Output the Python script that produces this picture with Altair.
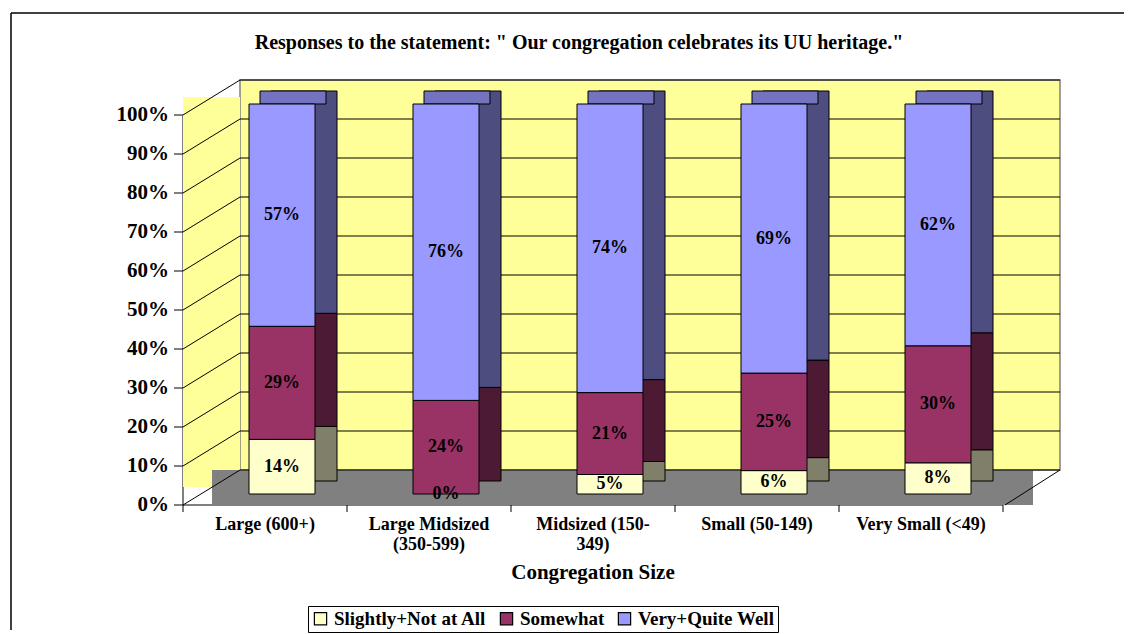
import altair as alt
import pandas as pd

sizes = ["Large (600+)", "Large Midsized (350-599)", "Midsized (150-349)",
         "Small (50-149)", "Very Small (<49)"]
responses = ["Slightly+Not at All", "Somewhat", "Very+Quite Well"]
slightly = [14, 0, 5, 6, 8]
somewhat = [29, 24, 21, 25, 30]
very = [57, 76, 74, 69, 62]
y_ticks = [0, 10, 20, 30, 40, 50, 60, 70, 80, 90, 100]
title_text = 'Responses to the statement: " Our congregation celebrates its UU heritage."'

front_colors = ["#FFFFCC", "#993366", "#9999FF"]
side_colors = ["#80806A", "#4D1A33", "#4D4D80"]
top_color = "#7373BF"
FONT = "Liberation Serif"

W, H = 820, 390
DX, DY = 57, 35  # perspective shift between back wall and front axis

rows = []
for i, s in enumerate(sizes):
    for j, (r, series) in enumerate(zip(responses, [slightly, somewhat, very])):
        rows.append({"size": s, "resp": r, "idx": j, "value": series[i]})
df = pd.DataFrame(rows)
ticks_df = pd.DataFrame({"tick": y_ticks})
one = pd.DataFrame({"a": [0]})

xscale = alt.Scale(domain=sizes, paddingInner=0, paddingOuter=0)
yscale = alt.Scale(domain=[0, 100], nice=False)

x_axis = alt.Axis(translate=-DX, offset=DX + DY, tickBand="extent",
                  labelAngle=0, domainColor="black", tickColor="black",
                  tickSize=7, labelPadding=4, labelFont=FONT, labelFontSize=18,
                  labelFontWeight="bold", labelColor="black", labelLimit=300,
                  labelLineHeight=20,
                  labelExpr="datum.label == 'Large Midsized (350-599)' ? ['Large Midsized', '(350-599)'] : datum.label == 'Midsized (150-349)' ? ['Midsized (150-', '349)'] : datum.label",
                  titleFont=FONT, titleFontSize=21, titleFontWeight="bold",
                  titleColor="black", titlePadding=8)
y_axis = alt.Axis(translate=DY, offset=DX + DY, values=y_ticks, grid=False,
                  labelExpr="datum.value + '%'", domainColor="black",
                  tickColor="black", tickSize=9, labelPadding=5, labelFont=FONT,
                  labelFontSize=21, labelFontWeight="bold", labelColor="black")

X = alt.X("size:N", scale=xscale, sort=sizes, title="Congregation Size", axis=x_axis)


def Y(field):
    return alt.Y(field, scale=yscale, title=None, axis=y_axis)


base = (
    alt.Chart(df)
    .transform_window(y1="sum(value)", groupby=["size"],
                      sort=[alt.SortField("idx", order="ascending")], frame=[None, 0])
    .transform_calculate(y0="datum.y1 - datum.value", mid="datum.y1 - datum.value / 2")
)

# decorations: left wall, floor, grid
left_wall = alt.Chart(one).mark_rect(fill="#FFFF99").encode(
    x=alt.value(-DX), x2=alt.value(0), y=alt.value(17), y2=alt.value(H + 17))
floor = alt.Chart(one).mark_rect(fill="#808080").encode(
    x=alt.value(-28), x2=alt.value(W - 27), y=alt.value(H), y2=alt.value(H + DY))
floor_edge = alt.Chart(one).mark_rule(color="black", strokeWidth=1).encode(
    x=alt.value(W - DX + 2), x2=alt.value(W), y=alt.value(H + DY), y2=alt.value(H))
back_grid = alt.Chart(ticks_df).mark_rule(color="black", strokeWidth=1).encode(
    y=Y("tick:Q"), x=alt.value(0), x2=alt.value(W))
side_grid = alt.Chart(ticks_df).mark_rule(color="black", strokeWidth=1, yOffset=DY, y2Offset=0).encode(
    y=Y("tick:Q"), y2="tick:Q", x=alt.value(-DX), x2=alt.value(0))

# outer thin frame
frame_top = alt.Chart(one).mark_rule(color="black", strokeWidth=1.5).encode(
    x=alt.value(-229), x2=alt.value(W + 80), y=alt.value(-67))
frame_left = alt.Chart(one).mark_rule(color="black", strokeWidth=1.5).encode(
    x=alt.value(-229), y=alt.value(-67), y2=alt.value(H + 160))

# chart title
title = alt.Chart(one).mark_text(font=FONT, fontSize=20, fontWeight="bold", color="black",
                                 align="center", baseline="middle").encode(
    x=alt.value(339), y=alt.value(-37), text=alt.value(title_text))

side = base.transform_filter("datum.value > 0").mark_bar(
    width=66, xOffset=-18, x2Offset=-18, yOffset=11, y2Offset=11,
    stroke="black", strokeWidth=1).encode(
    x=X, y=Y("y0:Q"), y2="y1:Q",
    color=alt.Color("resp:N", scale=alt.Scale(domain=responses, range=side_colors), legend=None),
)
top = base.transform_filter("datum.idx == 2").mark_bar(
    width=66, xOffset=-29, x2Offset=-29, yOffset=11, y2Offset=24,
    fill=top_color, stroke="black", strokeWidth=1).encode(
    x=X, y=Y("y1:Q"), y2="y1:Q",
)

front = base.transform_filter("datum.value > 0").mark_bar(
    width=66, xOffset=-40, x2Offset=-40, yOffset=24, y2Offset=24,
    stroke="black", strokeWidth=1).encode(
    x=X, y=Y("y0:Q"), y2="y1:Q",
    color=alt.Color("resp:N", scale=alt.Scale(domain=responses, range=front_colors),
                    legend=alt.Legend(title=None, orient="none", legendX=68, legendY=526,
                                      direction="horizontal", symbolType="square",
                                      symbolSize=150, symbolStrokeColor="black",
                                      symbolStrokeWidth=1.2, labelFont=FONT, labelFontSize=19,
                                      labelFontWeight="bold", labelColor="black",
                                      strokeColor="black", fillColor="white", padding=3,
                                      columnPadding=10, labelOffset=4)),
)

labels = base.mark_text(dx=-40, dy=24, font=FONT, fontSize=18, fontWeight="bold",
                        color="black").encode(
    x=X, y=Y("mid:Q"), text=alt.Text("label:N"),
).transform_calculate(label="datum.value + '%'")

chart = alt.layer(
    left_wall, floor, floor_edge, back_grid, side_grid, frame_top, frame_left, title,
    side, top, front, labels,
).resolve_scale(color="independent").properties(
    width=W, height=H,
    autosize=alt.AutoSizeParams(type="none"),
    padding={"left": 232, "top": 72, "right": 64, "bottom": 164},
).configure_view(fill="#FFFF99", stroke="#808080", strokeWidth=1.5)

chart.save("out.html", embed_options={"renderer": "svg", "actions": False})
